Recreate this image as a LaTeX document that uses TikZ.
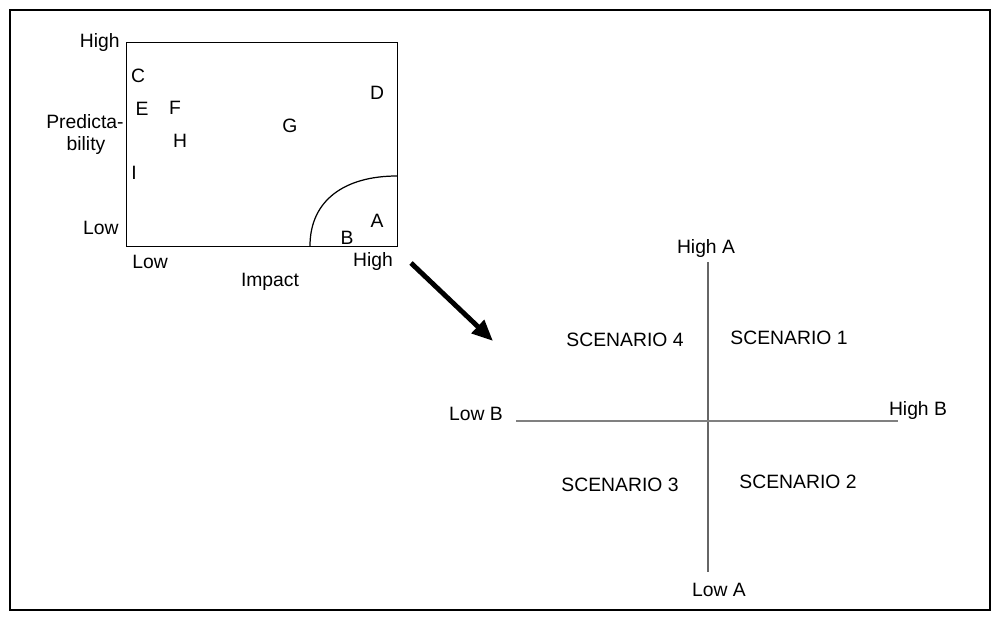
\documentclass[tikz,border=0pt]{standalone}
\usepackage{fontspec}
\setmainfont{Liberation Sans}
\usetikzlibrary{arrows.meta}
\begin{document}
\begin{tikzpicture}[x=0.02cm,y=-0.02cm,
  lbl/.style={inner sep=0pt,font=\fontsize{11}{13}\selectfont},
  axis/.style={line width=1.6pt,draw=black!50}]
\useasboundingbox (0,0) rectangle (1000,621);
\draw[line width=1.2pt] (10,10) rectangle (990,610);
% matrix
\node[draw,line width=0.8pt,minimum width=271*0.02cm,minimum height=204*0.02cm,inner sep=0pt,anchor=north west] (box) at (126,42) {};
\node[lbl,anchor=east] (yhigh) at (120,43) {High};
\node[lbl,anchor=east] (ylow) at (119,228) {Low};
\node[lbl] (pred) at (85,122) {Predicta-};
\node[lbl] (bil) at (86,146) {bility};
\node[lbl] (xlow) at (150,262) {Low};
\node[lbl] (xhigh) at (373,262) {High};
\node[lbl] (imp) at (270,282) {Impact};
\node[lbl] (C) at (138,76) {C};
\node[lbl] (E) at (142,109) {E};
\node[lbl] (F) at (175,108) {F};
\node[lbl] (H) at (180,141) {H};
\node[lbl] (I) at (134,173) {I};
\node[lbl] (G) at (290,126) {G};
\node[lbl] (D) at (377,93) {D};
\node[lbl] (A) at (377,221) {A};
\node[lbl] (B) at (347,238) {B};
\coordinate (arcS) at (310,246);
\coordinate (arcE) at (397,176);
\draw[line width=0.7pt] (arcS) .. controls (310,200) and (345,176) .. (arcE);
% arrow
\coordinate (arS) at (411,263);
\coordinate (arE) at (493,341);
\draw[line width=2.8pt,-{Triangle[length=12pt,width=10pt]}] (arS) -- (arE);
% axes
\coordinate (vt) at (708,262);
\coordinate (vb) at (708,572);
\coordinate (hl) at (516,421);
\coordinate (hr) at (898,421);
\draw[line width=1.4pt,draw=black!60] (vt) -- (vb);
\draw[axis] (hl) -- (hr);
\node[lbl] (hA) at (706,249) {High A};
\node[lbl] (lA) at (719,590) {Low A};
\node[lbl] (lB) at (476,414) {Low B};
\node[lbl] (hB) at (918,411) {High B};
\node[lbl] (s4) at (625,340) {SCENARIO 4};
\node[lbl] (s1) at (789,338) {SCENARIO 1};
\node[lbl] (s3) at (620,485) {SCENARIO 3};
\node[lbl] (s2) at (798,482) {SCENARIO 2};
\end{tikzpicture}
\end{document}
